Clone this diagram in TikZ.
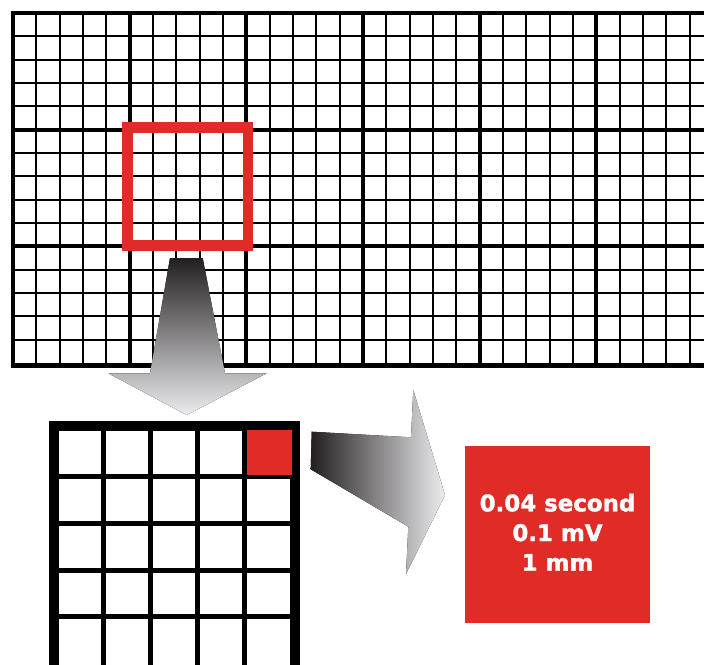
\documentclass[tikz,border=0pt]{standalone}
\usepackage{fontspec}
\newfontfamily\infofont{DejaVu Sans}[BoldFeatures={FakeBold=1.6}]
\definecolor{ecgred}{HTML}{E02B26}
\definecolor{arrowdark}{HTML}{231F20}
\definecolor{arrowmid}{HTML}{58585A}
\definecolor{arrowlight}{HTML}{ECECEE}
\tikzset{
  fineline/.style={line width=2.1pt, black},
  thickline/.style={line width=4.2pt, black},
  smallgridline/.style={line width=5pt, black},
}
\begin{document}
\begin{tikzpicture}[x=1pt,y=-1pt]
\useasboundingbox (0,0) rectangle (704,664);
\fill[white] (0,0) rectangle (704,664);
\begin{scope}
\clip (0,0) rectangle (704,664);
% ---- large ECG grid ----
\foreach \i in {1,...,30} {
  \draw[fineline] ({13+\i*23.333},13) -- ({13+\i*23.333},365);
}
\foreach \j in {1,...,14} {
  \draw[fineline] (13,{13+\j*23.333}) -- (720,{13+\j*23.333});
}
\foreach \i in {0,...,6} {
  \draw[thickline] ({13+\i*116.667},11) -- ({13+\i*116.667},367.5);
}
\foreach \j in {0,1,2} {
  \draw[thickline] (11,{13+\j*116.667}) -- (720,{13+\j*116.667});
}
\draw[line width=5pt] (11,365.5) -- (720,365.5);
% ---- zoom square ----
\node[draw=ecgred, line width=10.5pt, minimum width=120.4pt, minimum height=118pt, inner sep=0pt] (zoomsq) at (187.8,186.5) {};
% ---- down arrow ----
\fill[top color=arrowdark, middle color=arrowmid, bottom color=arrowlight]
  (170,258) -- (202.7,258) -- (225,373.3) -- (266.7,373.3) -- (186.7,415)
  -- (108.3,373.3) -- (150,373.3) -- cycle;
% ---- small grid (one large square) ----
\foreach \i in {0,...,3} {
  \draw[smallgridline] ({103.9+\i*46.7},426) -- ({103.9+\i*46.7},670);
  \draw[smallgridline] (53.5,{476.7+\i*46.67}) -- (295,{476.7+\i*46.67});
}
\draw[line width=10pt] (53.5,670) -- (53.5,426.3) -- (295.1,426.3) -- (295.1,670);
\node[fill=ecgred, minimum width=45.2pt, minimum height=45.3pt, inner sep=0pt] (smallsq) at (269.2,452.2) {};
% ---- right arrow ----
\fill[left color=arrowdark, middle color=arrowmid, right color=arrowlight]
  (311.7,431.7) -- (411,437.3) -- (413.3,390) -- (445,495) -- (406,574)
  -- (408.3,526.7) -- (310.7,469.3) -- cycle;
% ---- info box ----
\node[fill=ecgred, minimum width=185pt, minimum height=176.7pt, inner sep=0pt] (info) at (557.5,534.3) {};
\node[text=white, align=center, inner sep=0pt,
      font={\infofont\bfseries\fontsize{22.9pt}{29.7pt}\selectfont}]
  (infotext) at ([yshift=2pt]info.center) {0.04 second\\0.1 mV\\1 mm};
\end{scope}
\end{tikzpicture}
\end{document}
